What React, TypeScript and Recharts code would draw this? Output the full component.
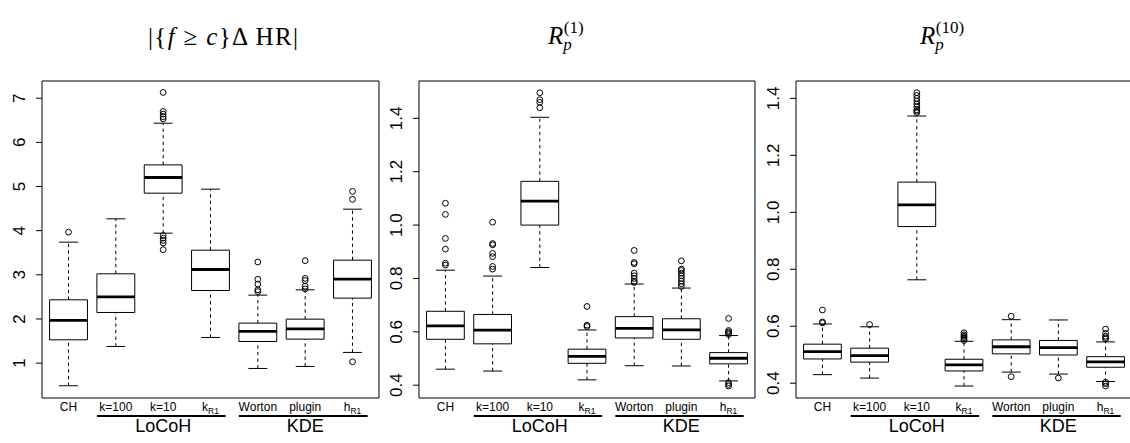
import React from 'react';
import { ComposedChart, XAxis, YAxis, ReferenceArea, ReferenceLine, Scatter } from 'recharts';

// ---- categories & labels ----
const categories = ['CH', 'k=100', 'k=10', 'kR1', 'Worton', 'plugin', 'hR1'];
const labelMain = ['CH', 'k=100', 'k=10', 'k', 'Worton', 'plugin', 'h'];
const labelSub = ['', '', '', 'R1', '', '', 'R1'];
const xTicks = [1, 2, 3, 4, 5, 6, 7];
const groupNames = ['LoCoH', 'KDE'];
const groupFirst = [2, 5];
const groupLast = [4, 7];

// ---- panel 1: |{f >= c} Δ HR| ----
const symLow = [0.487, 1.377, 3.943, 1.581, 0.879, 0.925, 1.242];
const symQ1 = [1.528, 2.147, 4.849, 2.645, 1.49, 1.543, 2.472];
const symMed = [1.966, 2.502, 5.204, 3.12, 1.717, 1.777, 2.902];
const symQ3 = [2.434, 3.023, 5.49, 3.558, 1.906, 1.996, 3.332];
const symHigh = [3.74, 4.268, 6.434, 4.94, 2.54, 2.66, 4.487];
const symOut = [
  [3.966],
  [],
  [7.13, 6.7, 6.64, 6.58, 6.53, 3.89, 3.83, 3.78, 3.72, 3.57],
  [],
  [3.29, 2.9, 2.79, 2.66, 2.62],
  [3.32, 2.92, 2.87, 2.74, 2.68],
  [4.89, 4.71, 1.03],
];
const symTicks = [1, 2, 3, 4, 5, 6, 7];
const symDomain = [0.21, 7.39];

// ---- panel 2: R_p^(1) ----
const r1Low = [0.46, 0.453, 0.841, 0.42, 0.473, 0.472, 0.416];
const r1Q1 = [0.572, 0.555, 1.0, 0.482, 0.577, 0.572, 0.48];
const r1Med = [0.622, 0.606, 1.09, 0.508, 0.613, 0.607, 0.501];
const r1Q3 = [0.677, 0.665, 1.164, 0.535, 0.657, 0.649, 0.522];
const r1High = [0.831, 0.809, 1.404, 0.607, 0.779, 0.764, 0.586];
const r1Out = [
  [1.082, 1.04, 0.95, 0.91, 0.857, 0.85],
  [1.011, 0.931, 0.926, 0.894, 0.882, 0.845, 0.835],
  [1.44, 1.46, 1.47, 1.496],
  [0.62, 0.625, 0.695],
  [0.785, 0.79, 0.8, 0.81, 0.82, 0.855, 0.86, 0.905],
  [0.77, 0.78, 0.79, 0.8, 0.81, 0.82, 0.83, 0.835, 0.866],
  [0.59, 0.595, 0.6, 0.605, 0.65, 0.41, 0.403, 0.397],
];
const rTicks = [0.4, 0.6, 0.8, 1.0, 1.2, 1.4];
const r1Domain = [0.352, 1.54];

// ---- panel 3: R_p^(10) ----
const r10Low = [0.43, 0.418, 0.763, 0.39, 0.439, 0.432, 0.406];
const r10Q1 = [0.485, 0.474, 0.95, 0.443, 0.503, 0.499, 0.456];
const r10Med = [0.511, 0.497, 1.026, 0.464, 0.528, 0.525, 0.475];
const r10Q3 = [0.537, 0.523, 1.106, 0.484, 0.552, 0.55, 0.493];
const r10High = [0.608, 0.598, 1.338, 0.547, 0.623, 0.622, 0.545];
const r10Out = [
  [0.612, 0.615, 0.657],
  [0.606],
  [1.35, 1.355, 1.36, 1.37, 1.38, 1.39, 1.4, 1.41, 1.42],
  [0.55, 0.555, 0.56, 0.565, 0.57, 0.577],
  [0.635, 0.423],
  [0.418],
  [0.555, 0.56, 0.565, 0.575, 0.59, 0.403, 0.398, 0.39],
];
const r10Domain = [0.348, 1.461];

const X_DOMAIN = [0.44, 7.56];
const SANS = '"Liberation Sans", Arial, Helvetica, sans-serif';
const SERIF = '"Liberation Serif", "Times New Roman", serif';

const XTick = (props: any) => {
  const { x, y, payload } = props;
  const i = Math.round(payload.value) - 1;
  return (
    <text x={x} y={y + 12.5} textAnchor="middle" fontSize={12} fontFamily={SANS} fill="#000">
      {labelMain[i]}
      {labelSub[i] ? (
        <tspan fontSize={8.5} dy={3}>
          {labelSub[i]}
        </tspan>
      ) : null}
    </text>
  );
};

const YTick = (props: any) => {
  const { x, y, payload, fmt } = props;
  const bx = x - 11.3;
  return (
    <text
      x={bx}
      y={y}
      transform={`rotate(-90 ${bx} ${y})`}
      textAnchor="middle"
      fontSize={17}
      fontFamily={SANS}
      fill="#000"
    >
      {fmt(payload.value)}
    </text>
  );
};

function Panel(props: any) {
  const { left, width, low, q1, med, q3, high, outliers, ticks, domain, fmt } = props;
  const pts = outliers.flatMap((vals: number[], i: number) => vals.map((v) => ({ x: i + 1, y: v })));
  const els: any[] = [];
  categories.forEach((c, i) => {
    const cx = i + 1;
    els.push(
      <ReferenceLine key={`wu${c}`} segment={[{ x: cx, y: q3[i] }, { x: cx, y: high[i] }]} stroke="#000" strokeWidth={1} strokeDasharray="3.3 3.3" />,
      <ReferenceLine key={`wl${c}`} segment={[{ x: cx, y: low[i] }, { x: cx, y: q1[i] }]} stroke="#000" strokeWidth={1} strokeDasharray="3.3 3.3" />,
      <ReferenceLine key={`cu${c}`} segment={[{ x: cx - 0.2, y: high[i] }, { x: cx + 0.2, y: high[i] }]} stroke="#000" strokeWidth={1} />,
      <ReferenceLine key={`cl${c}`} segment={[{ x: cx - 0.2, y: low[i] }, { x: cx + 0.2, y: low[i] }]} stroke="#000" strokeWidth={1} />,
      <ReferenceArea key={`b${c}`} x1={cx - 0.4} x2={cx + 0.4} y1={q1[i]} y2={q3[i]} fill="#fff" fillOpacity={1} stroke="#000" strokeWidth={1} />,
      <ReferenceLine key={`m${c}`} segment={[{ x: cx - 0.4, y: med[i] }, { x: cx + 0.4, y: med[i] }]} stroke="#000" strokeWidth={2.8} />
    );
  });
  groupNames.forEach((g, k) => {
    const start = groupFirst[k] - 0.4;
    const end = groupLast[k] + 0.32;
    const mid = (groupFirst[k] + groupLast[k]) / 2;
    els.push(
      <ReferenceLine
        key={`g${g}`}
        segment={[{ x: start, y: domain[0] }, { x: end, y: domain[0] }]}
        ifOverflow="visible"
        shape={(p: any) => {
          const lx = p.x1 + ((mid - start) / (end - start)) * (p.x2 - p.x1);
          return (
            <g>
              <line x1={p.x1} x2={p.x2} y1={p.y1 + 18} y2={p.y2 + 18} stroke="#000" strokeWidth={2} />
              <text x={lx} y={p.y1 + 34} textAnchor="middle" fontSize={18} fontFamily={SANS} fill="#000">
                {g}
              </text>
            </g>
          );
        }}
      />
    );
  });
  return (
    <div style={{ position: 'absolute', left, top: 0 }}>
      <ComposedChart width={width} height={443} data={pts} margin={{ top: 81, right: 1, bottom: 0, left: 0 }}>
        <XAxis
          type="number"
          dataKey="x"
          domain={X_DOMAIN}
          allowDataOverflow
          ticks={xTicks}
          interval={0}
          tickLine={false}
          axisLine={false}
          height={45}
          tickSize={0}
          tickMargin={0}
          tick={<XTick />}
        />
        <YAxis
          type="number"
          dataKey="y"
          domain={domain}
          allowDataOverflow
          ticks={ticks}
          interval={0}
          width={42}
          tickSize={6}
          tickMargin={0}
          axisLine={false}
          tickLine={{ stroke: '#000' }}
          tick={<YTick fmt={fmt} />}
        />
        <ReferenceArea x1={X_DOMAIN[0]} x2={X_DOMAIN[1]} y1={domain[0]} y2={domain[1]} fill="none" stroke="#000" strokeWidth={1} ifOverflow="visible" />
        {els}
        <Scatter
          data={pts}
          dataKey="y"
          isAnimationActive={false}
          shape={(p: any) => <circle cx={p.cx} cy={p.cy} r={2.9} fill="none" stroke="#000" strokeWidth={1} />}
        />
      </ComposedChart>
    </div>
  );
}

const fmtInt = (v: number) => String(v);
const fmtDec = (v: number) => v.toFixed(1);

export default function App() {
  return (
    <div style={{ position: 'fixed', left: 0, top: 0, width: 1130, height: 443, overflow: 'hidden', background: '#fff' }}>
      <svg width={1130} height={70} style={{ position: 'absolute', left: 0, top: 0 }}>
        <text x={148} y={45} fontFamily={SERIF} fontSize={25} fill="#000" textLength={150} lengthAdjust="spacing">
          |{'{'}<tspan fontStyle="italic">f</tspan> ≥ <tspan fontStyle="italic">c</tspan>{'}'}Δ HR|
        </text>
        <text x={548} y={44} fontFamily={SERIF} fontSize={25} fill="#000">
          <tspan fontStyle="italic">R</tspan>
          <tspan fontStyle="italic" fontSize={17} dy={6}>p</tspan>
          <tspan fontSize={17} dx={-8} dy={-17}>(1)</tspan>
        </text>
        <text x={920} y={44} fontFamily={SERIF} fontSize={25} fill="#000">
          <tspan fontStyle="italic">R</tspan>
          <tspan fontStyle="italic" fontSize={17} dy={6}>p</tspan>
          <tspan fontSize={17} dx={-8} dy={-17}>(10)</tspan>
        </text>
      </svg>
      <Panel left={0} width={380} low={symLow} q1={symQ1} med={symMed} q3={symQ3} high={symHigh} outliers={symOut} ticks={symTicks} domain={symDomain} fmt={fmtInt} />
      <Panel left={377} width={379} low={r1Low} q1={r1Q1} med={r1Med} q3={r1Q3} high={r1High} outliers={r1Out} ticks={rTicks} domain={r1Domain} fmt={fmtDec} />
      <Panel left={754} width={379} low={r10Low} q1={r10Q1} med={r10Med} q3={r10Q3} high={r10High} outliers={r10Out} ticks={rTicks} domain={r10Domain} fmt={fmtDec} />
    </div>
  );
}
